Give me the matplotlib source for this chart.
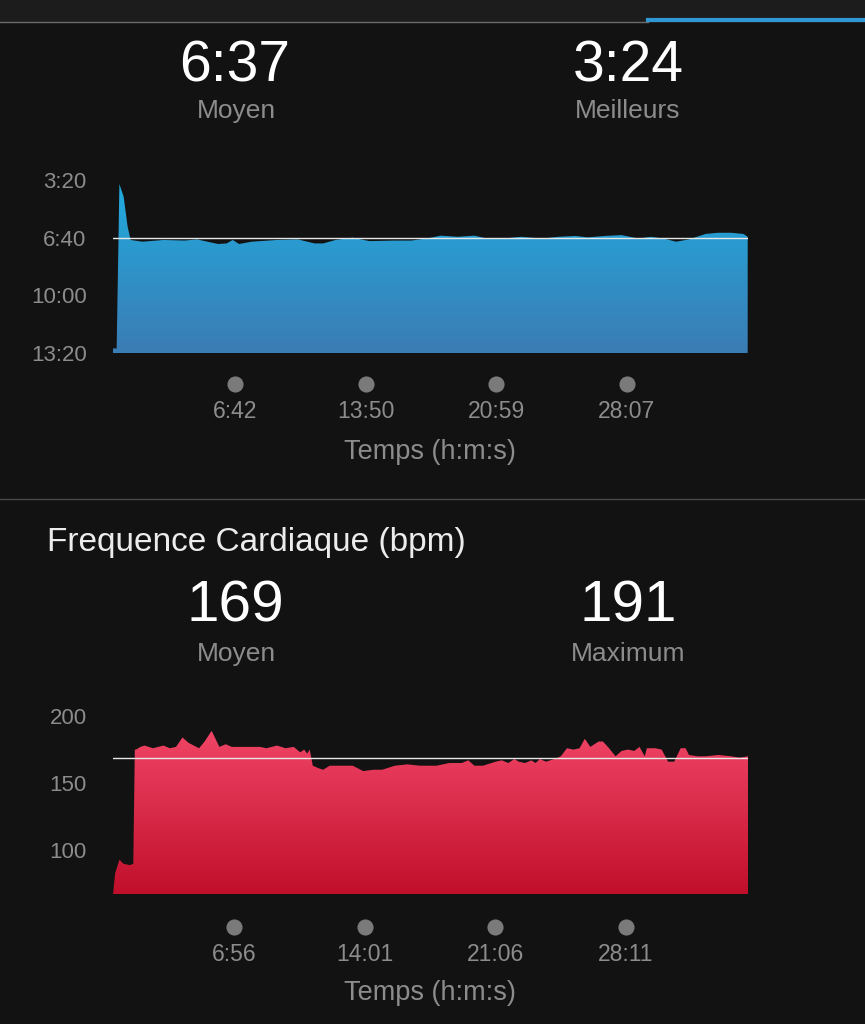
import numpy as np
import matplotlib.pyplot as plt
import matplotlib.transforms as mtransforms
from matplotlib.colors import LinearSegmentedColormap

# pace chart (time in s, pace in s/km)
pace_t = [0, 12, 21, 35, 48, 58, 97, 166, 235, 276, 345, 373, 393, 414, 455, 538, 607, 662, 690, 731,
          787, 842, 925, 980, 1035, 1076, 1132, 1187, 1228, 1283, 1339, 1408, 1463, 1518, 1559, 1615,
          1670, 1725, 1766, 1808, 1849, 1891, 1946, 1987, 2029, 2070, 2084]
pace_v = [784, 784, 214, 258, 362, 408, 414, 408, 410, 406, 422, 420, 408, 422, 414, 408, 406, 420, 420, 408,
          400, 412, 410, 410, 402, 393, 397, 393, 403, 403, 397, 403, 397, 394, 399, 394,
          391, 403, 397, 403, 414, 406, 387, 383, 383, 387, 397]
pace_ticks = [402, 830, 1259, 1687]
pace_ticklabels = ['6:42', '13:50', '20:59', '28:07']
pace_yticks = [200, 400, 600, 800]
pace_yticklabels = ['3:20', '6:40', '10:00', '13:20']
pace_avg = 400

# heart rate chart
hr_t = [22, 29, 43, 56, 77, 88, 93, 97, 111, 125, 152, 186, 207, 227, 248, 268, 302, 320, 343, 368, 389,
        408, 432, 473, 501, 521, 556, 583, 610, 631, 644, 654, 662, 672, 692, 706, 727, 754, 774, 802,
        836, 870, 898, 939, 980, 1021, 1075, 1116, 1157, 1178, 1198, 1226, 1267, 1287, 1308, 1328, 1342,
        1363, 1383, 1397, 1411, 1431, 1458, 1479, 1499, 1520, 1540, 1557, 1575, 1602, 1616, 1636, 1657,
        1677, 1698, 1718, 1735, 1752, 1759, 1787, 1807, 1828, 1848, 1869, 1885, 1896, 1924, 1951, 1992,
        2033, 2060, 2088]
hr_v = [67, 83, 93, 90, 89, 90, 175, 175, 177, 178, 176, 178, 176, 177, 184, 180, 176, 181, 189, 177, 179,
        177, 177, 177, 177, 176, 178, 176, 177, 173, 175, 172, 175, 163, 161, 160, 163, 163, 163, 163,
        159, 160, 160, 163, 164, 163, 163, 165, 165, 167, 163, 163, 166, 167, 165, 168, 166,
        165, 167, 165, 168, 166, 168, 170, 176, 175, 176, 183, 177, 181, 181, 176, 170,
        174, 175, 174, 177, 170, 176, 176, 175, 166, 166, 176, 176, 171, 170, 170, 171,
        170, 169, 170]
hr_ticks = [416, 841, 1266, 1691]
hr_ticklabels = ['6:56', '14:01', '21:06', '28:11']
hr_yticks = [100, 150, 200]
hr_avg = 169

W, H = 865, 1024
BG = '#121212'
GREY = '#8c8c8c'
plt.rcParams['font.family'] = ['Liberation Sans', 'DejaVu Sans']

fig = plt.figure(figsize=(W / 100, H / 100), dpi=100, facecolor=BG)


def px_axes(l, t, r, b):
    return fig.add_axes([l / W, 1 - b / H, (r - l) / W, (b - t) / H])


def ftext(x, y, s, **kw):
    fig.text(x / W, 1 - y / H, s, ha='center', va='center', **kw)


def gradient_area(ax, t, v, base, c_top, c_bot):
    poly = ax.fill_between(t, v, base, color='none', lw=0)
    y0, y1 = ax.get_ylim()
    cmap = LinearSegmentedColormap.from_list('g', [c_bot, c_top])
    grad = np.linspace(0, 1, 256).reshape(-1, 1)
    if y0 > y1:
        grad = grad[::-1]
    im = ax.imshow(grad, cmap=cmap, aspect='auto', origin='lower',
                   extent=[ax.get_xlim()[0], ax.get_xlim()[1], min(y0, y1), max(y0, y1)], zorder=1)
    im.set_clip_path(poly.get_paths()[0], transform=ax.transData)


def style(ax, xt, xl, pad):
    ax.set_facecolor(BG)
    for s in ax.spines.values():
        s.set_visible(False)
    ax.set_xticks(xt, xl)
    ax.tick_params(axis='x', length=0, pad=pad, labelsize=16.5, labelcolor=GREY)
    ax.tick_params(axis='y', length=0, pad=19, labelsize=16, labelcolor=GREY)


# top strip
fig.patches.append(plt.Rectangle((0, 1 - 22 / H), 1, 22 / H, transform=fig.transFigure,
                                 color='#1c1c1c', zorder=0))
fig.add_artist(plt.Line2D([0, 648 / W], [1 - 22 / H] * 2, color='#6a6a6a', lw=1))
fig.add_artist(plt.Line2D([648 / W, 1], [1 - 20 / H] * 2, color='#2f97d4', lw=3))
fig.add_artist(plt.Line2D([0, 1], [1 - 499 / H] * 2, color='#4a4a4a', lw=1))

# pace
ax1 = px_axes(113, 180, 748, 353)
ax1.set_xlim(0, 2085)
ax1.set_ylim(800, 200)
gradient_area(ax1, pace_t, pace_v, 800, '#20acdf', '#3b7cb4')
ax1.axhline(pace_avg, color='#e6e6e6', lw=1, zorder=3)
ax1.set_yticks(pace_yticks, pace_yticklabels)
style(ax1, pace_ticks, pace_ticklabels, 34)
tr1 = mtransforms.blended_transform_factory(ax1.transData, ax1.transAxes)
ax1.scatter(pace_ticks, [-0.18] * 4, s=135, color='#7a7a7a', transform=tr1, clip_on=False, lw=0)

ftext(235, 66, '6:37', fontsize=41, color='white')
ftext(628, 66, '3:24', fontsize=41, color='white')
ftext(236, 111, 'Moyen', fontsize=19, color=GREY)
ftext(628, 111, 'Meilleurs', fontsize=19, color=GREY)
ftext(430, 452, 'Temps (h:m:s)', fontsize=19.5, color=GREY)

# heart rate
ax2 = px_axes(113, 716, 748, 894)
ax2.set_xlim(22, 2088)
ax2.set_ylim(67.5, 200)
gradient_area(ax2, hr_t, hr_v, 67.5, '#f54a6c', '#c00f2b')
ax2.axhline(hr_avg, color='#e6e6e6', lw=1, zorder=3)
ax2.set_yticks(hr_yticks, [str(v) for v in hr_yticks])
style(ax2, hr_ticks, hr_ticklabels, 35)
tr2 = mtransforms.blended_transform_factory(ax2.transData, ax2.transAxes)
ax2.scatter(hr_ticks, [-0.185] * 4, s=135, color='#7a7a7a', transform=tr2, clip_on=False, lw=0)

fig.text(47 / W, 1 - 542 / H, 'Frequence Cardiaque (bpm)', ha='left', va='center', fontsize=24, color='#ececec')
ftext(235, 607, '169', fontsize=42, color='white')
ftext(628, 607, '191', fontsize=42, color='white')
ftext(236, 654, 'Moyen', fontsize=19, color=GREY)
ftext(628, 654, 'Maximum', fontsize=19, color=GREY)
ftext(430, 993, 'Temps (h:m:s)', fontsize=19.5, color=GREY)

fig.savefig('out.png', dpi=100, facecolor=BG)
